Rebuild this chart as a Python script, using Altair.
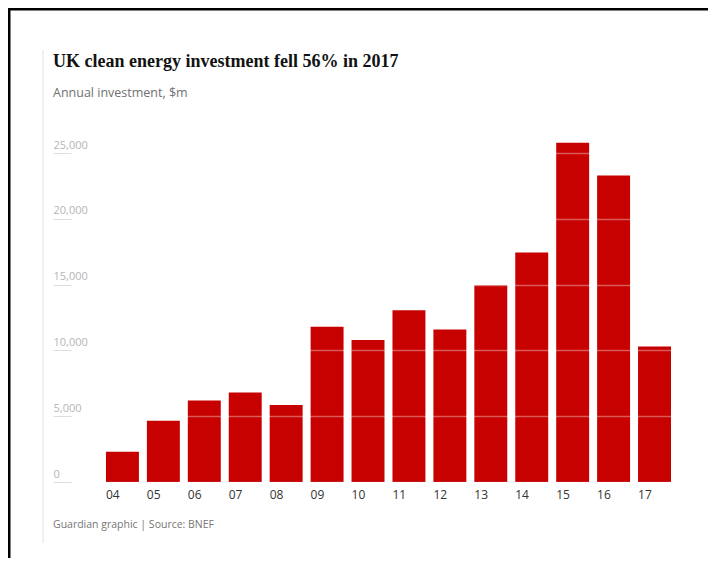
import altair as alt
import pandas as pd

years = ["04", "05", "06", "07", "08", "09", "10", "11", "12", "13", "14", "15", "16", "17"]
investment = [2300, 4650, 6200, 6800, 5850, 11800, 10800, 13050, 11600, 14950, 17450, 25800, 23300, 10300]
y_ticks = [0, 5000, 10000, 15000, 20000, 25000]

title_text = "UK clean energy investment fell 56% in 2017"
subtitle_text = "Annual investment, $m"
footer_text = "Guardian graphic | Source: BNEF"

df = pd.DataFrame({"year": years, "value": investment})

W, H = 618, 342

x_enc = alt.X(
    "year:N",
    sort=years,
    scale=alt.Scale(paddingInner=0.195, paddingOuter=0.647, align=1),
    axis=alt.Axis(
        title=None, domain=False, ticks=False, labelAngle=0,
        labelAlign="left", labelOffset=-16.5, labelPadding=7,
        labelBaseline="top", labelFontSize=12, labelColor="#333333",
        labelFont="Open Sans",
    ),
)
y_enc = alt.Y(
    "value:Q",
    scale=alt.Scale(domain=[0, 26000], nice=False),
    axis=alt.Axis(
        title=None, values=y_ticks, format=",d", domain=False,
        offset=-18, tickSize=18, tickColor="#dddddd", tickWidth=1,
        labelAlign="left", labelBaseline="bottom", labelPadding=0,
        labelOffset=-3, labelFontSize=11, labelColor="#b5b5b5",
        labelFont="Open Sans",
        grid=True, gridColor="#ffffff", gridOpacity=0.35, gridWidth=1.5,
        zindex=1,
    ),
)

bars = alt.Chart(df).mark_bar(color="#c70000").encode(x=x_enc, y=y_enc)

one = pd.DataFrame({"t": [title_text]})
title = alt.Chart(pd.DataFrame({"t": [title_text]})).mark_text(
    align="left", baseline="alphabetic", font="Liberation Serif",
    fontWeight="bold", fontSize=18, color="#121212",
).encode(x=alt.value(0), y=alt.value(-73), text="t:N")

subtitle = alt.Chart(pd.DataFrame({"t": [subtitle_text]})).mark_text(
    align="left", baseline="alphabetic", font="Open Sans",
    fontSize=12.5, color="#707070",
).encode(x=alt.value(0), y=alt.value(-43), text="t:N")

footer = alt.Chart(pd.DataFrame({"t": [footer_text]})).mark_text(
    align="left", baseline="alphabetic", font="Open Sans",
    fontSize=10.5, color="#767676",
).encode(x=alt.value(0), y=alt.value(388), text="t:N")

side_line = alt.Chart(one).mark_rule(color="#e2e2e2", strokeWidth=1).encode(
    x=alt.value(-10), y=alt.value(-90), y2=alt.value(403)
)
border_left = alt.Chart(one).mark_rule(color="#000000", strokeWidth=3).encode(
    x=alt.value(-44), y=alt.value(-132), y2=alt.value(420)
)
border_top = alt.Chart(one).mark_rule(color="#000000", strokeWidth=3).encode(
    x=alt.value(-45), x2=alt.value(660), y=alt.value(-131)
)

chart = alt.layer(
    bars, title, subtitle, footer, side_line, border_left, border_top
).properties(
    width=W, height=H,
    padding={"left": 45, "top": 132, "right": 37, "bottom": 76},
    autosize=alt.AutoSizeParams(type="none"),
    background="#ffffff",
).configure_view(strokeWidth=0)

chart.save("out.html", embed_options={"renderer": "svg", "actions": False})
